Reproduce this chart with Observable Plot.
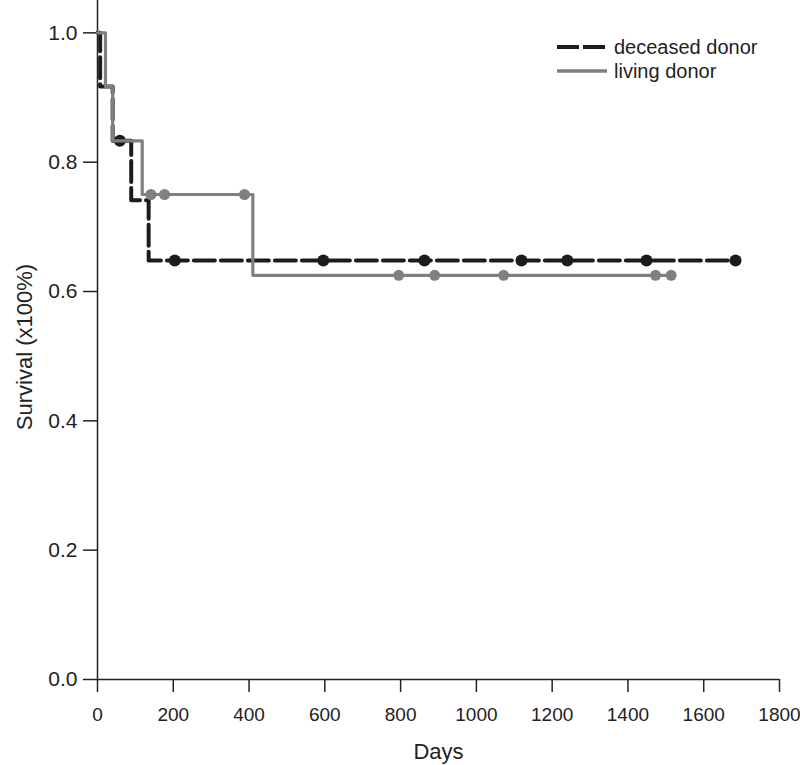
<!DOCTYPE html>
<html>
<head>
<meta charset="utf-8">
<script src="https://cdn.jsdelivr.net/npm/d3@7"></script>
<script src="https://cdn.jsdelivr.net/npm/@observablehq/plot@0.6"></script>
<style>
  html, body { margin: 0; padding: 0; background: #fff; }
  #wrap { position: relative; width: 800px; height: 765px; font-family: "Liberation Sans", Arial, sans-serif; }
  #legend { position: absolute; left: 556px; top: 35px; font-size: 20px; color: #222; }
  #legend .row { display: flex; align-items: center; height: 24px; }
  #legend svg { margin-right: 6px; }
</style>
</head>
<body>
<div id="wrap"></div>
<script>
// Kaplan-Meier step data
const deceasedDays = [0, 7, 40, 89, 135, 1684];
const deceasedSurv = [1.0, 0.917, 0.833, 0.741, 0.648, 0.648];
const deceasedCensorDays = [59, 204, 596, 863, 1119, 1240, 1449, 1684];
const deceasedCensorSurv = [0.833, 0.648, 0.648, 0.648, 0.648, 0.648, 0.648, 0.648];

const livingDays = [0, 21, 40, 118, 410, 1514];
const livingSurv = [1.0, 0.917, 0.833, 0.75, 0.625, 0.625];
const livingCensorDays = [141, 177, 388, 795, 890, 1072, 1473, 1514];
const livingCensorSurv = [0.75, 0.75, 0.75, 0.625, 0.625, 0.625, 0.625, 0.625];

const seriesNames = ["deceased donor", "living donor"];
const xTicks = [0, 200, 400, 600, 800, 1000, 1200, 1400, 1600, 1800];
const yTicks = [0.0, 0.2, 0.4, 0.6, 0.8, 1.0];
const xLabel = "Days";
const yLabel = "Survival (x100%)";

const deceased = deceasedDays.map((d, i) => ({day: d, s: deceasedSurv[i]}));
const living = livingDays.map((d, i) => ({day: d, s: livingSurv[i]}));
const deceasedC = deceasedCensorDays.map((d, i) => ({day: d, s: deceasedCensorSurv[i]}));
const livingC = livingCensorDays.map((d, i) => ({day: d, s: livingCensorSurv[i]}));

const black = "#1c1c1c", gray = "#808080";

const chart = Plot.plot({
  width: 800,
  height: 765,
  marginLeft: 97,
  marginRight: 21,
  marginTop: 0,
  marginBottom: 86,
  x: {domain: [0, 1800]},
  y: {domain: [0, 1.05]},
  style: {fontFamily: "'Liberation Sans', Arial, sans-serif", fontSize: "20px", color: "#222", background: "#fff", overflow: "visible"},
  marks: [
    Plot.axisX({ticks: xTicks, tickSize: 13, tickPadding: 15, strokeWidth: 1.5, tickFormat: d => String(d), label: null, fontSize: 19}),
    Plot.axisY({ticks: yTicks, tickSize: 14, tickPadding: 6, strokeWidth: 1.5, tickFormat: d3.format(".1f"), label: null, fontSize: 21}),
    Plot.text([xLabel], {frameAnchor: "bottom", dy: 72, lineAnchor: "middle", textAnchor: "middle", fontSize: 22, fill: "#222"}),
    Plot.text([yLabel], {frameAnchor: "left", dx: -73, dy: 7, rotate: -90, lineAnchor: "middle", textAnchor: "middle", fontSize: 22, fill: "#222"}),
    Plot.ruleX([0], {stroke: "#222", strokeWidth: 1.5}),
    Plot.ruleY([0], {stroke: "#222", strokeWidth: 1.5}),
    Plot.line(deceased, {x: "day", y: "s", curve: "step-after", stroke: black, strokeWidth: 4, strokeDasharray: "21,6"}),
    Plot.dot(deceasedC, {x: "day", y: "s", r: 6, fill: black, stroke: "none"}),
    Plot.line(living, {x: "day", y: "s", curve: "step-after", stroke: gray, strokeWidth: 3.2}),
    Plot.dot(livingC, {x: "day", y: "s", r: 5.5, fill: gray, stroke: "none"})
  ]
});

const wrap = document.getElementById("wrap");
wrap.appendChild(chart);

const legend = document.createElement("div");
legend.id = "legend";
const swatches = [
  {name: seriesNames[0], color: black, dash: "22,4", w: 4},
  {name: seriesNames[1], color: gray, dash: null, w: 3.5}
];
legend.innerHTML = swatches.map(s =>
  `<div class="row"><svg width="52" height="10"><line x1="1" x2="51" y1="5" y2="5" stroke="${s.color}" stroke-width="${s.w}" ${s.dash ? `stroke-dasharray="${s.dash}"` : ""}/></svg><span>${s.name}</span></div>`
).join("");
wrap.appendChild(legend);
</script>
</body>
</html>
